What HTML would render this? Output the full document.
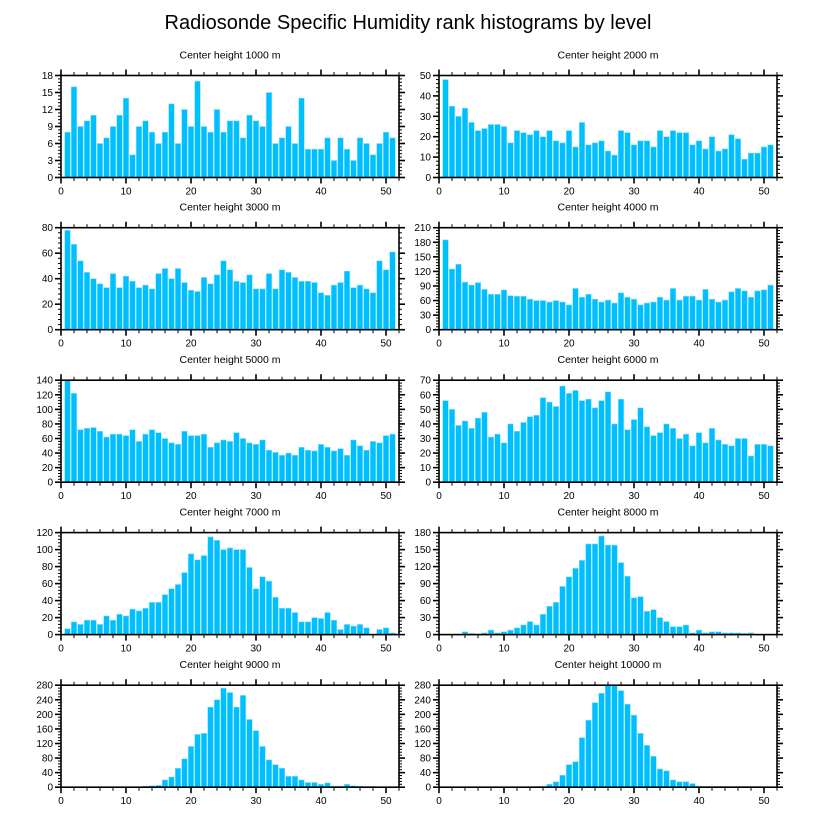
<!DOCTYPE html>
<html><head><meta charset="utf-8"><style>
html,body{margin:0;padding:0;background:#fff;}
svg{display:block;font-family:"Liberation Sans",Arial,sans-serif;}
</style></head><body>
<svg id="chart" width="816" height="824" viewBox="0 0 816 824">
<text x="408" y="29" text-anchor="middle" font-size="20">Radiosonde Specific Humidity rank histograms by level</text>
</svg>
<script>
const levels = ["1000","2000","3000","4000","5000","6000","7000","8000","9000","10000"];
const yMaxes = [18,50,80,210,140,70,120,180,280,280];
const yTickSteps = [3,10,20,30,20,10,20,30,40,40];
const xTicks = [0,10,20,30,40,50];
const h1000 = [8,16,9,10,11,6,7,9,11,14,4,9,10,8,6,8,13,6,12,9,17,9,8,12,8,10,10,7,11,10,9,15,6,7,9,6,14,5,5,5,7,3,7,5,3,7,6,4,6,8,7];
const h2000 = [48,35,30,34,27,23,24,26,26,25,17,23,22,21,23,20,23,18,17,23,15,27,16,17,18,13,11,23,22,16,18,18,15,23,20,23,22,22,16,18,14,20,13,14,21,19,9,12,12,15,16];
const h3000 = [78,67,54,45,40,36,33,44,33,42,38,33,35,32,44,48,40,48,37,31,30,41,36,43,54,47,38,37,43,32,32,44,32,47,45,41,38,38,37,29,27,35,37,46,33,35,32,29,54,47,61];
const h4000 = [185,125,135,98,92,97,83,73,73,82,70,69,69,63,60,60,57,60,57,51,85,67,73,63,57,61,55,76,67,63,51,55,57,67,61,85,61,69,69,61,83,63,57,61,78,85,80,67,80,82,92];
const h5000 = [140,122,72,74,75,70,62,66,66,64,72,56,66,72,68,60,54,52,70,64,64,66,48,54,58,56,68,60,54,52,58,44,41,37,40,37,48,44,43,52,48,43,46,37,58,50,44,56,54,64,66];
const h6000 = [56,50,39,42,37,44,48,31,33,27,40,35,41,45,46,58,55,52,66,61,63,56,57,51,56,62,40,57,36,43,51,38,32,34,40,37,30,33,25,34,27,37,29,26,25,30,30,18,26,26,25];
const h7000 = [7,15,12,17,17,12,22,17,24,22,30,28,31,38,38,47,54,59,73,95,88,93,115,111,100,102,100,100,79,54,68,63,44,31,31,26,15,15,20,19,26,17,6,12,10,12,8,0,6,8,2];
const h8000 = [0,0,0,5,2,1,3,8,3,5,8,12,17,23,17,36,50,57,85,102,117,131,160,160,174,158,158,127,103,65,67,41,44,30,23,14,14,17,3,8,3,5,5,3,3,3,2,3,0,0,0];
const h9000 = [0,0,0,0,0,0,0,0,0,0,0,1,3,4,5,20,28,52,78,112,145,148,220,240,272,260,220,252,186,155,112,75,62,52,30,30,20,13,13,8,12,3,3,8,4,3,1,2,0,0,0];
const h10000 = [0,0,0,0,0,0,0,0,0,0,0,0,0,0,2,3,8,15,33,62,70,136,184,232,258,280,280,265,228,198,148,115,85,50,45,20,15,15,10,3,2,2,2,2,2,2,2,2,2,1,0];
const series = [h1000,h2000,h3000,h4000,h5000,h6000,h7000,h8000,h9000,h10000];

const NS = "http://www.w3.org/2000/svg";
const svg = document.getElementById("chart");
const XMAX = 52, PW = 338, PH = 102;
const lefts = [61, 439];
const tops = [75.5, 227.7, 380.2, 532.6, 685.2];
function mk(tag, attrs, parent){ const e=document.createElementNS(NS,tag); for(const k in attrs) e.setAttribute(k,attrs[k]); parent.appendChild(e); return e; }

series.forEach((vals, i) => {
  const x0 = lefts[i%2], y0 = tops[Math.floor(i/2)];
  const ymax = yMaxes[i], step = yTickSteps[i];
  const xs = v => x0 + v / XMAX * PW;
  const ys = v => y0 + PH - v / ymax * PH;
  const g = mk("g", {}, svg);
  
  
  const t = mk("text", {x: x0 + PW/2, y: y0 - 17, "text-anchor":"middle", "font-size":"10.5"}, g);
  t.textContent = "Center height " + levels[i] + " m";
  
  
  vals.forEach((v, k) => {
    if (v <= 0) return;
    const c = k + 1;
    const r = mk("rect", {x: xs(c - 0.43), y: ys(v), width: xs(0.86) - x0, height: ys(0) - ys(v), fill:"#00bfff", stroke:"#8fe0ff", "stroke-width":"0.6"}, g);
    
    
  });
  // frame
  const f = mk("rect", {x:x0, y:y0, width:PW, height:PH, fill:"none", stroke:"#000", "stroke-width":"1.6"}, g);
  
  
  // x ticks
  for (let v = 0; v <= XMAX; v += 2) {
    const major = v % 10 === 0, L = major ? 6 : 3.5, X = xs(v);
    mk("line", {x1:X, x2:X, y1:y0, y2:y0-L, stroke:"#000", "stroke-width": major?1.6:1}, g);
    mk("line", {x1:X, x2:X, y1:y0+PH, y2:y0+PH+L, stroke:"#000", "stroke-width": major?1.6:1}, g);
  }
  xTicks.forEach(v => {
    const tl = mk("text", {x: xs(v), y: y0 + PH + 17, "text-anchor":"middle", "font-size":"10"}, g);
    tl.textContent = v;
    
    
  });
  // y ticks
  const minor = step / 5;
  for (let v = 0; v <= ymax + 1e-9; v += minor) {
    const major = Math.abs(v/step - Math.round(v/step)) < 1e-6, L = major ? 6 : 3, Y = ys(v);
    mk("line", {x1:x0, x2:x0-L, y1:Y, y2:Y, stroke:"#000", "stroke-width": major?1.6:1}, g);
    mk("line", {x1:x0+PW, x2:x0+PW+L, y1:Y, y2:Y, stroke:"#000", "stroke-width": major?1.6:1}, g);
  }
  for (let v = 0; v <= ymax + 1e-9; v += step) {
    const tl = mk("text", {x: x0 - 8, y: ys(v) + 3.5, "text-anchor":"end", "font-size":"10"}, g);
    tl.textContent = Math.round(v);
    
    
  }
});
</script>
</body></html>
